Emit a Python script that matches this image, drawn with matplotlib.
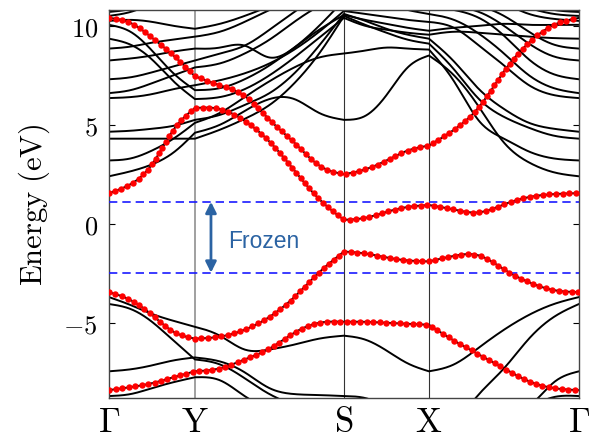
import numpy as np
import matplotlib
matplotlib.use("Agg")
import matplotlib.pyplot as plt

# high-symmetry path: segment lengths and number of read-off intervals per segment
kpath_labels = [r"$\Gamma$", r"$\mathrm{Y}$", r"$\mathrm{S}$", r"$\mathrm{X}$", r"$\Gamma$"]
seg_len = [0.86, 1.49, 0.85, 1.50]
seg_div = [4, 6, 4, 6]

# energies (eV) read at the knots along G-Y-S-X-G (21 values per band)
wann_1 = [10.4, 10.15, 9.4, 8.5, 7.45, 7.0, 6.45, 5.25, 4.1, 2.95, 2.5,
          2.75, 3.2, 3.7, 3.95, 4.75, 5.9, 7.7, 9.15, 10.05, 10.4]
wann_2 = [1.55, 2.0, 3.0, 4.75, 5.85, 5.8, 5.2, 4.15, 2.7, 1.25, 0.2,
          0.3, 0.6, 0.85, 0.95, 0.72, 0.58, 0.98, 1.35, 1.5, 1.55]
wann_3 = [-3.45, -3.85, -4.6, -5.45, -5.8, -5.7, -5.35, -4.7, -3.7, -2.45, -1.4,
          -1.5, -1.7, -1.85, -1.9, -1.62, -1.6, -2.3, -2.95, -3.35, -3.45]
wann_4 = [-8.4, -8.25, -8.05, -7.75, -7.45, -7.3, -6.85, -6.3, -5.5, -5.0, -4.95,
          -4.95, -5.0, -5.05, -5.1, -5.9, -6.6, -7.3, -7.95, -8.3, -8.4]

dft_low_a = [-3.7, -4.1, -4.55, -4.9, -5.2, -5.65, -6.35, -6.35, -6.1, -5.8, -5.65,
             -5.85, -6.4, -7.05, -7.45, -7.1, -6.25, -5.35, -4.6, -4.05, -3.7]
dft_low_b = [-4.05, -4.3, -4.95, -5.9, -6.85, -7.1, -7.8, -8.6, -9.2, -9.8, -10.0,
             -10.2, -10.3, -10.3, -10.2, -9.9, -8.6, -7.3, -5.8, -4.7, -4.05]
dft_low_c = [-7.45, -7.35, -7.15, -6.9, -6.75, -6.95, -7.5, -8.3, -8.6, -8.65, -8.7,
             -8.8, -9.2, -9.6, -9.8, -9.8, -9.6, -9.5, -9.2, -8.0, -7.45]
dft_low_d = [-8.7, -8.6, -8.3, -8.0, -7.75, -7.9, -8.7, -9.4, -10.0, -10.3, -10.4,
             -10.5, -10.6, -10.6, -10.6, -10.5, -10.3, -10.0, -9.3, -8.75, -8.7]

dft_up_1 = [2.4, 2.65, 3.0, 3.6, 4.6, 5.0, 5.7, 6.3, 6.3, 5.6, 5.25,
            5.45, 6.5, 7.9, 8.5, 7.5, 5.9, 4.1, 3.1, 2.6, 2.4]
dft_up_2 = [3.2, 3.3, 3.7, 4.3, 5.1, 5.6, 6.4, 7.2, 7.9, 8.4, 8.6,
            8.75, 8.9, 8.85, 8.8, 7.2, 5.2, 4.3, 3.65, 3.3, 3.2]
dft_up_3 = [4.3, 4.3, 4.3, 4.3, 4.3, 4.75, 5.3, 6.0, 7.1, 8.6, 10.5,
            10.05, 9.65, 9.3, 9.1, 7.8, 6.3, 5.4, 4.85, 4.45, 4.3]
dft_up_4 = [4.65, 4.7, 4.8, 4.95, 5.25, 5.5, 6.0, 6.6, 7.6, 9.0, 10.6,
            10.25, 9.85, 9.55, 9.35, 8.2, 6.8, 5.8, 5.1, 4.8, 4.65]
dft_up_5 = [6.35, 6.4, 6.55, 6.8, 7.0, 7.25, 7.6, 8.1, 8.8, 9.7, 10.75,
            10.6, 10.45, 10.3, 10.2, 9.9, 9.0, 8.0, 7.0, 6.5, 6.35]
dft_up_6 = [6.6, 6.75, 7.1, 7.5, 7.9, 8.1, 8.6, 9.3, 10.2, 11.0, 11.6,
            11.4, 11.1, 10.8, 10.6, 10.3, 9.6, 8.6, 7.5, 6.85, 6.6]
dft_up_7 = [7.3, 7.4, 7.65, 7.95, 8.25, 8.6, 9.0, 9.8, 10.7, 11.5, 12.0,
            11.8, 11.5, 11.2, 11.0, 10.8, 10.4, 9.5, 8.3, 7.55, 7.3]
dft_up_8 = [8.25, 8.35, 8.5, 8.7, 8.85, 8.9, 9.0, 8.4, 8.9, 10.0, 11.3,
            11.6, 11.5, 11.3, 11.2, 11.0, 10.7, 10.0, 9.1, 8.45, 8.25]
dft_up_9 = [8.85, 8.95, 9.15, 9.3, 9.45, 9.7, 10.2, 10.8, 11.4, 12.0, 12.5,
            12.0, 11.8, 11.6, 11.4, 11.2, 11.0, 10.5, 9.7, 9.05, 8.85]
dft_up_10 = [9.35, 9.05, 8.3, 7.2, 6.3, 6.4, 6.8, 7.5, 8.4, 9.4, 10.4,
             10.0, 9.8, 9.65, 9.55, 9.7, 9.65, 9.55, 9.45, 9.38, 9.35]
dft_up_11 = [10.05, 9.7, 8.75, 7.6, 6.75, 6.85, 7.3, 8.0, 8.9, 9.8, 10.55,
             10.3, 10.1, 9.9, 9.75, 9.9, 10.0, 10.1, 10.05, 10.05, 10.05]
dft_up_12 = [10.25, 10.3, 10.2, 10.0, 9.85, 10.1, 10.5, 11.0, 11.6, 12.2, 12.8,
             12.6, 12.4, 12.2, 12.0, 11.8, 11.5, 11.1, 10.6, 10.35, 10.25]
dft_up_13 = [10.5, 10.7, 11.1, 11.5, 11.9, 12.1, 12.3, 12.5, 12.7, 12.9, 13.0,
             12.8, 12.6, 12.4, 12.2, 12.0, 11.7, 11.3, 10.9, 10.6, 10.5]
dft_up_14 = [10.7, 10.85, 11.2, 11.6, 12.0, 12.2, 12.4, 12.6, 12.8, 13.0, 13.2,
             13.0, 12.8, 12.6, 12.4, 12.2, 11.9, 11.5, 11.1, 10.8, 10.7]

frozen_window = [-2.47, 1.11]
frozen_label = "Frozen"

wannier_bands = [wann_1, wann_2, wann_3, wann_4]
dft_bands = wannier_bands + [dft_low_a, dft_low_b, dft_low_c, dft_low_d,
                             dft_up_1, dft_up_2, dft_up_3, dft_up_4, dft_up_5,
                             dft_up_6, dft_up_7, dft_up_8, dft_up_9, dft_up_10,
                             dft_up_11, dft_up_12, dft_up_13, dft_up_14]


def natural_spline(x, y, xs):
    n = len(x)
    h = np.diff(x)
    A = np.zeros((n, n))
    r = np.zeros(n)
    A[0, 0] = A[-1, -1] = 1.0
    for i in range(1, n - 1):
        A[i, i - 1] = h[i - 1]
        A[i, i] = 2 * (h[i - 1] + h[i])
        A[i, i + 1] = h[i]
        r[i] = 3 * ((y[i + 1] - y[i]) / h[i] - (y[i] - y[i - 1]) / h[i - 1])
    c = np.linalg.solve(A, r)
    b = (y[1:] - y[:-1]) / h - h * (2 * c[:-1] + c[1:]) / 3
    d = (c[1:] - c[:-1]) / (3 * h)
    idx = np.clip(np.searchsorted(x, xs) - 1, 0, n - 2)
    t = xs - x[idx]
    return y[idx] + b[idx] * t + c[idx] * t ** 2 + d[idx] * t ** 3


# knot positions along the path
k_nodes = np.concatenate([[0.0], np.cumsum(seg_len)])
knots = [np.linspace(k_nodes[i], k_nodes[i + 1], seg_div[i] + 1) for i in range(4)]


def smooth_band(values):
    values = np.asarray(values, dtype=float)
    xs_all, ys_all = [], []
    start = 0
    for kk in knots:
        vv = values[start:start + len(kk)]
        xs = np.linspace(kk[0], kk[-1], 150)
        xs_all.append(xs)
        ys_all.append(natural_spline(kk, vv, xs))
        start += len(kk) - 1
    return np.concatenate(xs_all), np.concatenate(ys_all)


def dotted(ax, k, e, spacing_px):
    # place round dots evenly along the curve in screen space
    pts = ax.transData.transform(np.column_stack([k, e]))
    s = np.concatenate([[0.0], np.cumsum(np.hypot(*np.diff(pts, axis=0).T))])
    ss = np.arange(0.0, s[-1], spacing_px)
    return np.interp(ss, s, k), np.interp(ss, s, e)


plt.rcParams["mathtext.fontset"] = "cm"

fig = plt.figure(figsize=(5.89, 4.39), dpi=100)
ax = fig.add_axes([0.185, 0.091, 0.798, 0.884])
ax.set_xlim(k_nodes[0], k_nodes[-1])
ax.set_ylim(-8.8, 10.8)

for band in dft_bands:
    k, e = smooth_band(band)
    ax.plot(k, e, color="black", linewidth=1.4, zorder=2)

for band in wannier_bands:
    k, e = smooth_band(band)
    kd, ed = dotted(ax, k, e, 6.6)
    ax.plot(kd, ed, linestyle="none", marker="o", markersize=4.6,
            markerfacecolor="#ff0000", markeredgewidth=0, zorder=4)

for y in frozen_window:
    ax.axhline(y, color="#1a1aff", linewidth=1.2, linestyle=(0, (5, 3)), zorder=3)

ax.annotate("", xy=(1.02, frozen_window[1]), xytext=(1.02, frozen_window[0]),
            arrowprops=dict(arrowstyle="<|-|>", color="#2b63a3", lw=2.0,
                            mutation_scale=16, shrinkA=0, shrinkB=0), zorder=5)
ax.text(1.19, -0.83, frozen_label, color="#2b63a3", fontsize=16.5,
        family="Liberation Sans", va="center", ha="left", zorder=5)

ax.axvline(k_nodes[1], color="#999999", linewidth=1.3, zorder=1)
for kx in k_nodes[2:4]:
    ax.axvline(kx, color="#333333", linewidth=0.8, zorder=1)

ax.set_xticks(k_nodes, kpath_labels, fontsize=25)
ax.set_yticks([-5, 0, 5, 10], [r"$-5$", r"$0$", r"$5$", r"$10$"], fontsize=19)
ax.tick_params(axis="x", length=0, pad=4)
ax.tick_params(axis="y", direction="in", length=4, left=True, right=True, pad=8)
ax.set_ylabel(r"$\mathrm{Energy\ (eV)}$", fontsize=22, labelpad=8)
for sp in ax.spines.values():
    sp.set_color("#444444")
    sp.set_linewidth(1.0)

fig.savefig("out.png", dpi=100)
